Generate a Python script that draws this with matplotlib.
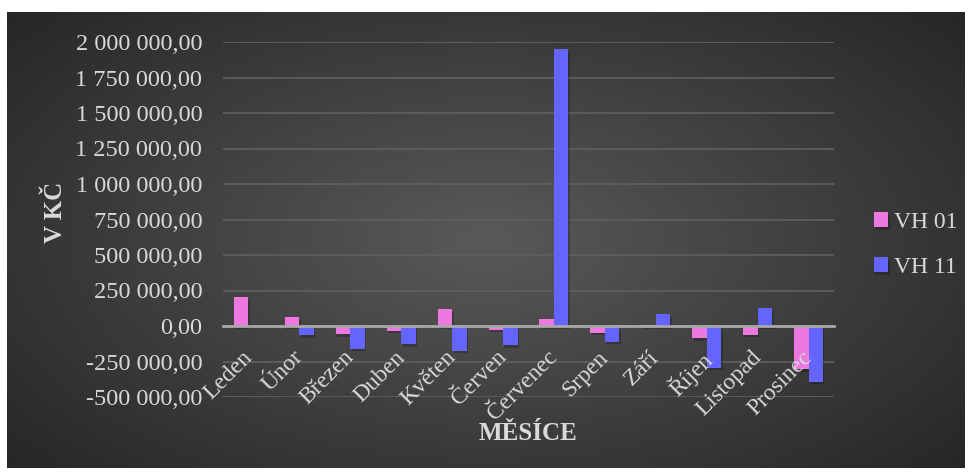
import numpy as np
import matplotlib
matplotlib.use('Agg')
import matplotlib.pyplot as plt
import matplotlib.patheffects as pe
import matplotlib.transforms as mtransforms
from matplotlib.ticker import FuncFormatter

# data
months = ['Leden', 'Únor', 'Březen', 'Duben', 'Květen', 'Červen',
          'Červenec', 'Srpen', 'Září', 'Říjen', 'Listopad', 'Prosinec']
vh01 = [206000, 65000, -56000, -33000, 118000, -26000,
        47000, -47000, 5000, -87000, -61000, -305000]
vh11 = [-4000, -63000, -160000, -127000, -174000, -134000,
        1948000, -110000, 85000, -293000, 127000, -392000]
series_names = ['VH 01', 'VH 11']

pink = '#ec78e0'
blue = '#6464ff'
txt = '#d9d9d9'

plt.rcParams['font.family'] = ['Liberation Serif', 'DejaVu Serif']

W, H = 969, 472
fig = plt.figure(figsize=(W / 100, H / 100), dpi=100, facecolor='white')

# radial gradient background of the chart area
bg = fig.add_axes([7 / W, 4 / H, 958 / W, 456 / H], zorder=0)
yy, xx = np.mgrid[-1:1:300j, -1:1:600j]
r = np.sqrt((xx * 0.95) ** 2 + (yy * 0.85) ** 2) / np.sqrt(0.95 ** 2 + 0.85 ** 2)
lum = 0.35 - 0.20 * r
bg.imshow(np.dstack([lum, lum, lum]), aspect='auto', extent=[0, 1, 0, 1])
bg.axis('off')

ax = fig.add_axes([223 / W, 1 - 397 / H, (834 - 223) / W, (397 - 42) / H], zorder=1)
ax.patch.set_alpha(0)

x = np.arange(len(months))
bw = 0.285
shadow = [pe.SimplePatchShadow(offset=(1, -2), alpha=0.22, shadow_rgbFace='black'), pe.Normal()]
b1 = ax.bar(x - bw / 2, vh01, bw, color=pink, zorder=3, label=series_names[0])
b2 = ax.bar(x + bw / 2, vh11, bw, color=blue, zorder=3, label=series_names[1])
for p in list(b1) + list(b2):
    p.set_path_effects(shadow)

ax.set_xlim(-0.5, len(months) - 0.5)
ax.set_ylim(-500000, 2000000)
ax.set_yticks(np.arange(-500000, 2000001, 250000))
ax.yaxis.set_major_formatter(FuncFormatter(lambda v, p: f'{v:,.2f}'.replace(',', ' ').replace('.', ',')))
ax.grid(axis='y', color='#5e5e5e', lw=1.3, zorder=0)
ax.set_axisbelow(True)

for s in ['top', 'right', 'left']:
    ax.spines[s].set_visible(False)
ax.spines['bottom'].set_position(('data', 0))
ax.spines['bottom'].set_color('#a8a8a8')
ax.spines['bottom'].set_linewidth(2)
ax.spines['bottom'].set_zorder(4)

# month labels sit on top of the bars
ax.xaxis.set_zorder(5)
ax.set_xticks(x)
ax.set_xticklabels(months, rotation=45, ha='right', rotation_mode='anchor')
ax.tick_params(axis='x', length=0, pad=15, labelsize=17, labelcolor=txt)
ax.tick_params(axis='y', length=0, pad=15, labelsize=17.5, labelcolor=txt)
shift = mtransforms.ScaledTranslation(-7 / 100, 0, fig.dpi_scale_trans)
for lab in ax.get_xticklabels():
    lab.set_transform(lab.get_transform() + shift)

fig.text(55 / W, 1 - 212 / H, 'V KČ', rotation=90, ha='center', va='center',
         fontsize=18, fontweight='bold', color=txt)
fig.text(528 / W, 1 - 433 / H, 'MĚSÍCE', ha='center', va='center',
         fontsize=18, fontweight='bold', color=txt)

leg = ax.legend(loc='center left', bbox_to_anchor=(874 / W, 1 - 245 / H),
                bbox_transform=fig.transFigure, frameon=False, fontsize=17,
                labelcolor=txt, handlelength=0.6, handleheight=0.6,
                handletextpad=0.25, labelspacing=1.0, borderpad=0, borderaxespad=0)

fig.savefig('out.png', dpi=100, facecolor='white')
